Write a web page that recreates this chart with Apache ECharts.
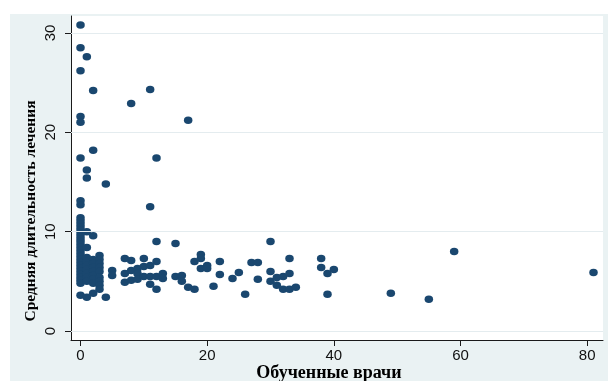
<!DOCTYPE html>
<html>
<head>
<meta charset="utf-8">
<script src="https://cdn.jsdelivr.net/npm/echarts@6/dist/echarts.min.js"></script>
<style>
html,body{margin:0;padding:0;background:#fff;}
#wrap{position:relative;width:608px;height:381px;overflow:hidden;}
#bg{position:absolute;left:10px;top:14px;width:598px;height:367px;background:#eaf2f3;}
#chart{position:absolute;left:0;top:0;width:608px;height:381px;}
</style>
</head>
<body>
<div id="wrap"><div id="bg"></div><div id="chart"></div></div>
<script>
// Data
const xTitle = 'Обученные врачи';
const yTitle = 'Средняя длительность лечения';
const xTicks = [0, 20, 40, 60, 80];
const yTicks = [0, 10, 20, 30];

// trained doctors (x) and average treatment duration (y), paired by index
const trainedDoctors = [
  0,0,1,0,2,11,8,0,0,17,2,0,12,1,1,4,11,0,0,
  0,0,0,0,0,0,0,0,0,0,0,0,0,0,0,0,0,0,0,0,0,0,0,0,
  1,1,1,1,1,1,1,1,1,1,
  2,2,2,2,2,2,2,2,2,
  3,3,3,3,3,3,3,3,3,
  4,5,5,
  7,8,10,7,7,8,8,9,9,9,10,10,11,11,11,12,12,12,13,13,12,15,15,16,16,17,18,18,19,19,19,20,20,21,22,22,24,25,26,27,28,28,30,30,30,31,31,32,32,33,33,33,34,38,38,39,39,40,49,55,59,81
];
const avgDuration = [
  30.8,28.5,27.6,26.2,24.2,24.3,22.9,21.6,21.0,21.2,18.2,17.4,17.4,16.2,15.4,14.8,12.5,13.1,12.7,
  11.4,11.1,10.8,10.5,10.2,9.9,9.6,9.3,9.0,8.7,8.4,8.1,7.8,7.5,7.2,6.9,6.6,6.3,6.0,5.7,5.4,5.1,4.8,3.6,
  10.0,8.4,7.4,7.0,6.6,6.2,5.8,5.4,5.0,3.4,
  9.6,7.2,6.8,6.4,6.0,5.6,5.2,4.8,3.8,
  7.6,7.2,6.8,6.4,6.0,5.4,5.0,4.6,4.2,
  3.4,6.1,5.6,
  7.3,7.1,7.3,5.8,4.9,5.1,6.1,6.3,5.8,5.2,6.5,5.5,6.6,5.5,4.7,7.0,5.5,4.2,5.8,5.3,9.0,8.8,5.5,5.6,5.0,4.4,4.2,7.0,7.7,7.3,6.3,6.6,6.3,4.5,7.0,5.7,5.3,5.9,3.7,6.9,6.9,5.2,9.0,6.0,5.0,5.4,4.6,5.5,4.2,7.3,5.8,4.2,4.4,7.3,6.4,5.8,3.7,6.2,3.8,3.2,8.0,5.9
];

const points = trainedDoctors.map((x, i) => [x, avgDuration[i]]);

const chart = echarts.init(document.getElementById('chart'), null, {renderer: 'canvas'});
chart.setOption({
  animation: false,
  backgroundColor: 'transparent',
  grid: {left: 71, right: 5, top: 16, bottom: 41, show: true, backgroundColor: '#ffffff', borderWidth: 0},
  xAxis: {
    type: 'value', min: -1.5, max: 82.5,
    axisLine: {show: true, onZero: false, lineStyle: {color: '#1a1a1a', width: 1}},
    axisTick: {show: true, length: 6, customValues: xTicks, lineStyle: {color: '#1a1a1a'}},
    axisLabel: {customValues: xTicks, color: '#111', fontFamily: 'Liberation Sans', fontSize: 15, margin: 8},
    splitLine: {show: false}
  },
  yAxis: {
    type: 'value', min: -0.9, max: 31.7,
    axisLine: {show: true, onZero: false, lineStyle: {color: '#1a1a1a', width: 1}},
    axisTick: {show: true, length: 6, customValues: yTicks, lineStyle: {color: '#1a1a1a'}},
    axisLabel: {customValues: yTicks, rotate: 90, color: '#111', fontFamily: 'Liberation Sans', fontSize: 15, margin: 13},
    splitLine: {show: false}
  },
  graphic: [
    {type: 'text', x: 329, y: 373, style: {text: xTitle, font: 'bold 18px "Liberation Serif"', fill: '#000', textAlign: 'center', textVerticalAlign: 'middle'}},
    {type: 'text', x: 31, y: 211, rotation: Math.PI / 2, style: {text: yTitle, font: 'bold 15.5px "Liberation Serif"', fill: '#000', textAlign: 'center', textVerticalAlign: 'middle'}}
  ],
  series: [
    {
      type: 'scatter', data: [], z: 1, silent: true,
      markLine: {
        silent: true, symbol: 'none', label: {show: false},
        lineStyle: {color: '#e4ecef', width: 1, type: 'solid'},
        data: yTicks.map(v => ({yAxis: v}))
      }
    },
    {
      type: 'scatter', z: 3, data: points, symbol: 'circle', symbolSize: [8.5, 7.5],
      itemStyle: {color: '#1a476f', opacity: 1}
    }
  ]
});
</script>
</body>
</html>
